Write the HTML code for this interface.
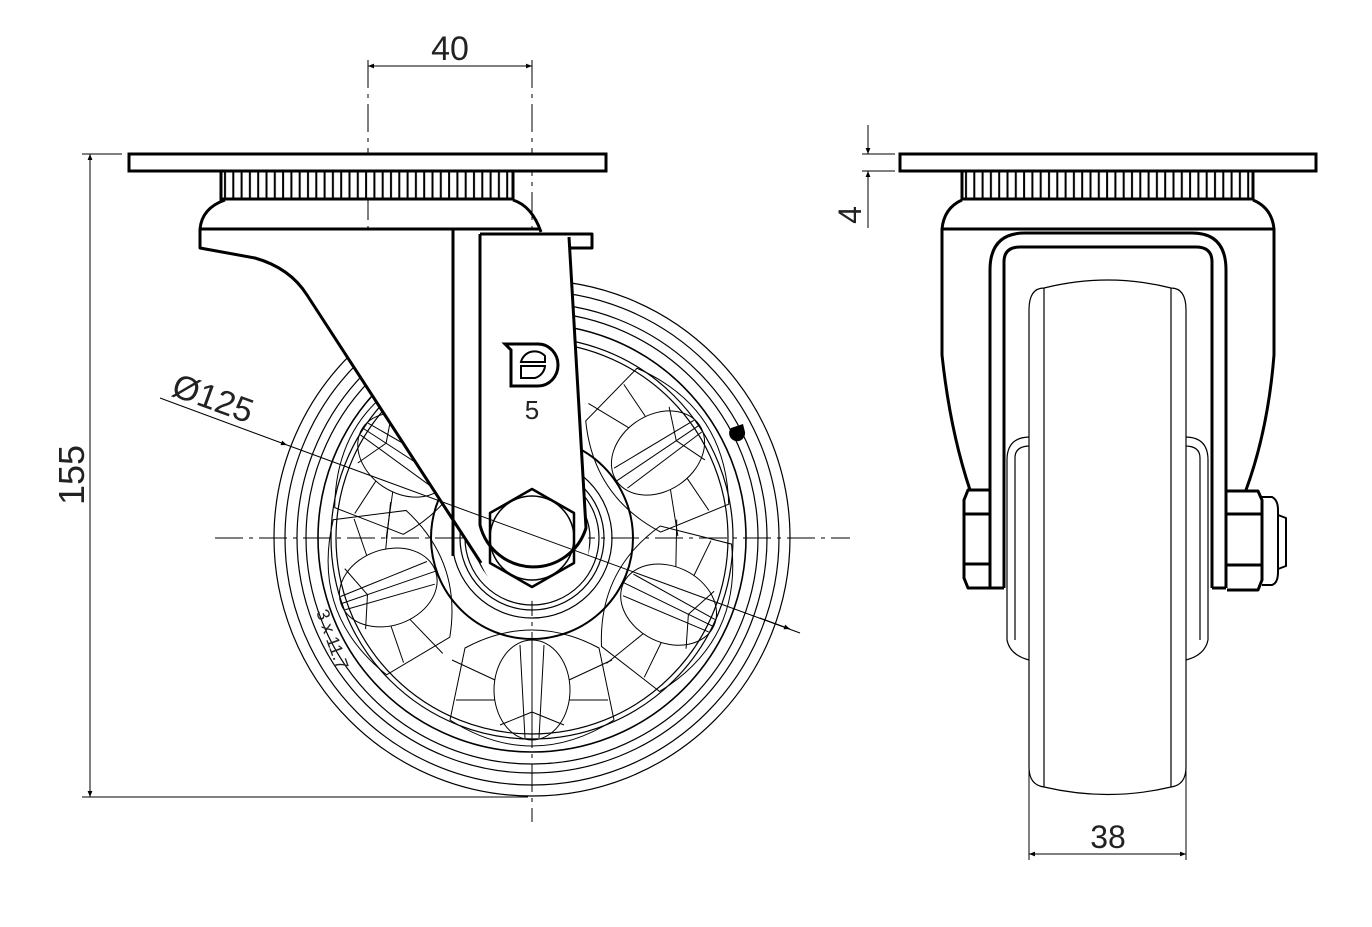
<!DOCTYPE html>
<html><head><meta charset="utf-8"><style>
html,body{margin:0;padding:0;background:#fff}
svg{display:block}
text{font-family:"Liberation Sans",sans-serif;fill:#222}
</style></head><body>
<svg width="1372" height="927" viewBox="0 0 1372 927" xmlns="http://www.w3.org/2000/svg">
<defs>
<pattern id="kn" x="221" y="0" width="8.3" height="40" patternUnits="userSpaceOnUse">
<rect width="8.3" height="40" fill="#fff"/><line x1="4" y1="0" x2="4" y2="40" stroke="#000" stroke-width="2"/>
</pattern>
<pattern id="kn2" x="962" y="0" width="8.3" height="40" patternUnits="userSpaceOnUse">
<rect width="8.3" height="40" fill="#fff"/><line x1="4" y1="0" x2="4" y2="40" stroke="#000" stroke-width="2"/>
</pattern>
<marker id="ar" viewBox="0 0 10 10" refX="10" refY="5" markerWidth="14" markerHeight="6" markerUnits="userSpaceOnUse" orient="auto-start-reverse"><path d="M0,1 L10,5 L0,9 z" fill="#000"/></marker>
<g id="lobe" fill="none" stroke="#000" stroke-width="1">
<ellipse cx="532" cy="690" rx="38" ry="50"/>
<path d="M465,648 Q532,612 599,648 L614,720 Q532,772 450,720 Z"/>
<line x1="532" y1="640" x2="532" y2="740"/>
<line x1="520" y1="645" x2="525" y2="738"/>
<line x1="544" y1="645" x2="539" y2="738"/>
<line x1="452" y1="660" x2="495" y2="680"/>
<line x1="612" y1="660" x2="569" y2="680"/>
<line x1="456" y1="700" x2="495" y2="700"/>
<line x1="608" y1="700" x2="569" y2="700"/>
<line x1="500" y1="725" x2="532" y2="712"/>
<line x1="564" y1="725" x2="532" y2="712"/>
</g>
</defs>

<g stroke="#000" stroke-width="1" stroke-dasharray="28,6,4,6" fill="none">
<line x1="368" y1="60" x2="368" y2="355"/>
<line x1="532" y1="60" x2="532" y2="822"/>
<line x1="215" y1="538" x2="850" y2="538"/>
</g>

<g fill="none" stroke="#000" stroke-width="1.2">
<circle cx="532" cy="538" r="258"/>
<circle cx="532" cy="538" r="247"/>
<circle cx="532" cy="538" r="235"/>
<circle cx="532" cy="538" r="226"/>
<circle cx="532" cy="538" r="214" stroke-width="1.6"/>
<circle cx="532" cy="538" r="201"/>
<circle cx="532" cy="538" r="196"/>
<circle cx="532" cy="538" r="101" stroke-width="2"/>
<circle cx="532" cy="538" r="80"/>
<circle cx="532" cy="538" r="72"/>
<circle cx="532" cy="538" r="67"/>
<circle cx="532" cy="538" r="58"/>
</g>
<use href="#lobe"/>
<use href="#lobe" transform="rotate(71 532 538)"/>
<use href="#lobe" transform="rotate(123 532 538)"/>
<use href="#lobe" transform="rotate(-64 532 538)"/>
<use href="#lobe" transform="rotate(-124 532 538)"/>
<path d="M731,428 a8,8 0 1 0 14,4 l-2,-8 z" fill="#000"/>
<text x="0" y="0" font-size="18" transform="translate(316,612) rotate(70)">3 x 11.7</text>

<path d="M200,229 L200,248 L255,258 Q290,268 307,295 L481,563 A55,55 0 0 0 586,528 L569,237 L453,229 Z" fill="#fff" stroke="none"/>
<g fill="none" stroke="#000" stroke-width="3" stroke-linejoin="round">
<path d="M200,229 L200,248 L255,258 Q290,268 307,295 L481,563"/>
<path d="M225,200 Q202,208 200,229 L540,229"/>
<path d="M513,200 Q532,206 541,232"/>
<line x1="453" y1="229" x2="453" y2="556"/>
<path d="M480,234 L480,525 A55,55 0 0 0 586,528 L569,237"/>
<path d="M480,234 L568,234 L592,234 L592,248 L570,248"/>
<polygon points="532,489 574,513 574,563 532,587 490,563 490,513" stroke-width="2.5"/>
</g>
<circle cx="532" cy="538" r="42" fill="none" stroke="#000" stroke-width="1.5"/>
<g fill="none" stroke="#000" stroke-width="3">
<path d="M505,344 L538,344 A20,21 0 0 1 538,386 L511,386 L511,350 Z"/>
</g>
<g fill="none" stroke="#000" stroke-width="2">
<path d="M521,362 A14,14 0 0 1 545,356 L545,362 Z"/>
<path d="M521,366 L545,366 A14,14 0 0 1 535,378 L521,378 Z"/>
</g>
<text x="532" y="419" font-size="26" text-anchor="middle" fill="#000">5</text>

<rect x="129" y="154" width="477" height="17" fill="#fff" stroke="#000" stroke-width="3"/>
<rect x="221" y="171" width="292" height="28" fill="url(#kn)" stroke="#000" stroke-width="3"/>

<g stroke="#000" stroke-width="1" fill="none">
<line x1="368" y1="66" x2="532" y2="66" marker-start="url(#ar)" marker-end="url(#ar)"/>
<line x1="82" y1="154" x2="122" y2="154"/>
<line x1="82" y1="797" x2="528" y2="797"/>
<line x1="90" y1="154" x2="90" y2="797" marker-start="url(#ar)" marker-end="url(#ar)"/>
<line x1="160" y1="398" x2="287" y2="445" marker-end="url(#ar)"/>
<line x1="287" y1="445" x2="800" y2="633" />
<line x1="760" y1="618" x2="790" y2="629" marker-end="url(#ar)"/>
</g>
<text x="450" y="60" font-size="34" text-anchor="middle">40</text>
<text x="0" y="0" font-size="36" text-anchor="middle" transform="translate(84,475) rotate(-90)">155</text>
<text x="0" y="0" font-size="34" transform="translate(170,395) rotate(20)">Ø125</text>

<g fill="none" stroke="#000" stroke-width="1.2">
<path d="M1007,640 L1007,460 Q1007,437 1030,437"/>
<path d="M1015,640 L1015,458 Q1015,446 1030,446"/>
<path d="M1208,640 L1208,460 Q1208,437 1185,437"/>
<path d="M1200,640 L1200,458 Q1200,446 1185,446"/>
</g>
<path d="M1029,310 Q1029,288 1044,288 Q1108,272 1171,288 Q1186,288 1186,310 L1186,767 Q1186,785 1171,787 Q1108,802 1044,787 Q1029,785 1029,767 Z" fill="#fff" stroke="#000" stroke-width="1.2"/>
<g stroke="#000" stroke-width="1.2">
<line x1="1044" y1="288" x2="1044" y2="787"/>
<line x1="1171" y1="288" x2="1171" y2="787"/>
</g>
<g fill="none" stroke="#000" stroke-width="3" stroke-linejoin="round">
<path d="M962,200 Q944,208 942,229 L942,355 Q950,430 970,490"/>
<path d="M1253,200 Q1272,208 1274,229 L1274,355 Q1268,430 1246,490"/>
<line x1="942" y1="229" x2="1274" y2="229"/>
<path d="M990,588 L990,270 Q990,233 1025,233 L1192,233 Q1226,233 1226,270 L1226,588"/>
<path d="M1004,588 L1004,262 Q1004,247 1020,247 L1196,247 Q1212,247 1212,262 L1212,588"/>
<line x1="990" y1="588" x2="1004" y2="588"/>
<line x1="1212" y1="588" x2="1226" y2="588"/>
<path d="M990,490 L968,490 L964,500 L964,578 L968,588 L990,588"/>
<line x1="964" y1="514" x2="990" y2="514"/><line x1="964" y1="564" x2="990" y2="564"/>
<path d="M1227,491 L1258,491 L1262,500 L1262,580 L1258,590 L1227,590"/>
<line x1="1227" y1="514" x2="1262" y2="514"/><line x1="1227" y1="565" x2="1262" y2="565"/>
<path d="M1262,497 L1272,497 Q1278,500 1278,510 L1278,572 Q1278,583 1272,585 L1262,585" stroke-width="2"/>
<path d="M1278,515 L1286,518 L1286,566 L1278,569" stroke-width="2"/>
</g>
<path d="M1007,640 Q1010,655 1029,660 M1208,640 Q1205,655 1186,660" fill="none" stroke="#000" stroke-width="1.2"/>
<rect x="900" y="154" width="416" height="17" fill="#fff" stroke="#000" stroke-width="3"/>
<rect x="962" y="171" width="291" height="28" fill="url(#kn2)" stroke="#000" stroke-width="3"/>

<g stroke="#000" stroke-width="1" fill="none">
<line x1="1029" y1="767" x2="1029" y2="860"/>
<line x1="1186" y1="767" x2="1186" y2="860"/>
<line x1="1029" y1="854" x2="1186" y2="854" marker-start="url(#ar)" marker-end="url(#ar)"/>
<line x1="862" y1="154" x2="895" y2="154"/>
<line x1="862" y1="171" x2="895" y2="171"/>
<line x1="868" y1="125" x2="868" y2="154" marker-end="url(#ar)"/>
<line x1="868" y1="228" x2="868" y2="171" marker-end="url(#ar)"/>
</g>
<text x="1108" y="848" font-size="32" text-anchor="middle">38</text>
<text x="0" y="0" font-size="32" text-anchor="middle" transform="translate(861,215) rotate(-90)">4</text>
</svg>
</body></html>
